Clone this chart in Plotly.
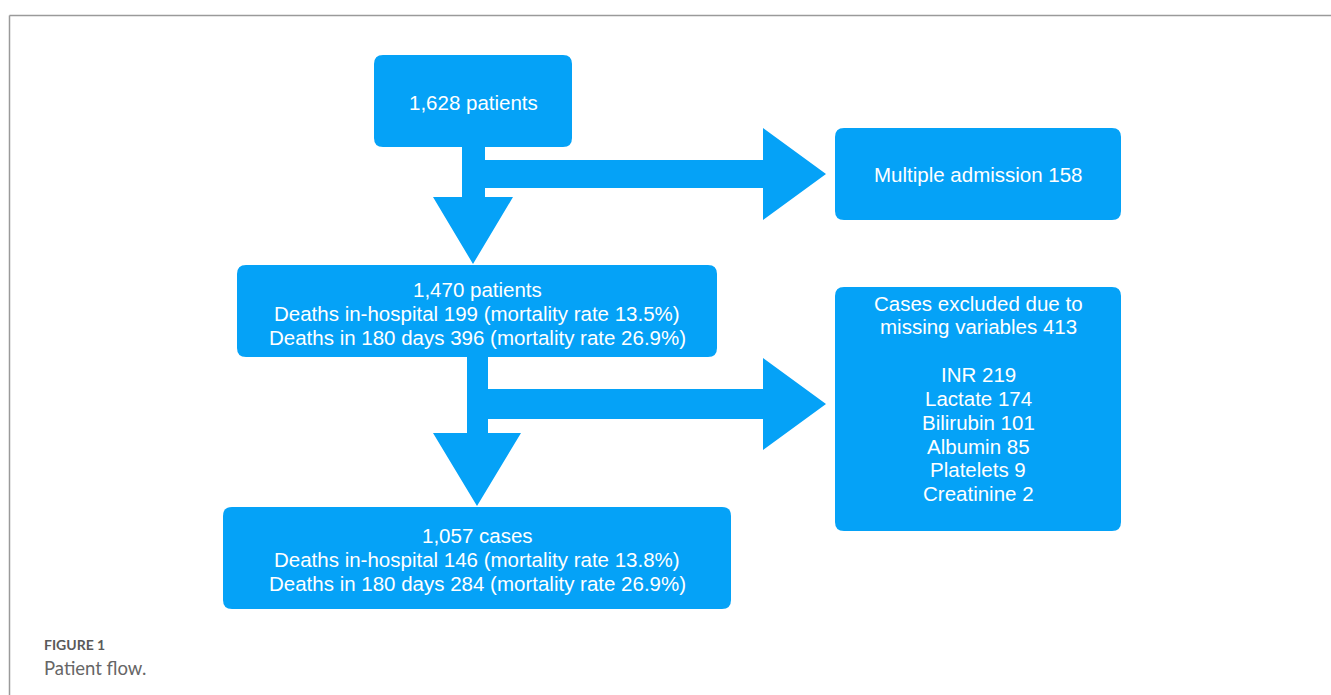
import plotly.graph_objects as go

# ---- data (flowchart contents) ----
initial_patients = 1628
multiple_admission = 158
cohort_patients = 1470
cohort_deaths_hospital = 199
cohort_mort_hospital = 13.5
cohort_deaths_180 = 396
cohort_mort_180 = 26.9
missing_total = 413
missing_vars = ["INR", "Lactate", "Bilirubin", "Albumin", "Platelets", "Creatinine"]
missing_counts = [219, 174, 101, 85, 9, 2]
final_cases = 1057
final_deaths_hospital = 146
final_mort_hospital = 13.8
final_deaths_180 = 284
final_mort_180 = 26.9

W, H = 1331, 695
BLUE = "#05A2F7"
FONT = "Liberation Sans, Arial, Helvetica, sans-serif"


def rrect(x0, y0, x1, y1, r=9):
    return (f"M{x0+r},{y0} L{x1-r},{y0} Q{x1},{y0} {x1},{y0+r} "
            f"L{x1},{y1-r} Q{x1},{y1} {x1-r},{y1} L{x0+r},{y1} "
            f"Q{x0},{y1} {x0},{y1-r} L{x0},{y0+r} Q{x0},{y0} {x0+r},{y0} Z")


def poly(pts):
    return "M" + " L".join(f"{x},{y}" for x, y in pts) + " Z"


shapes = []
def add_path(p):
    shapes.append(dict(type="path", path=p, xref="x", yref="y",
                       fillcolor=BLUE, line=dict(width=0), layer="below"))

# boxes
boxes = {
    "b1": (374, 55, 572, 147),
    "b2": (835, 128, 1121, 220),
    "b3": (237, 265, 717, 357),
    "b4": (835, 287, 1121, 531),
    "b5": (223, 507, 731, 609),
}
for b in boxes.values():
    add_path(rrect(*b))

# arrows
add_path(poly([(462, 146), (485, 146), (485, 197), (513, 197), (473, 264), (433, 197), (462, 197)]))
add_path(poly([(484, 160), (763, 160), (763, 128), (826, 174), (763, 220), (763, 188), (484, 188)]))
add_path(poly([(467, 356), (488, 356), (488, 433), (521, 433), (477, 506), (433, 433), (467, 433)]))
add_path(poly([(487, 389), (763, 389), (763, 358), (826, 404), (763, 450), (763, 419), (487, 419)]))

# frame lines
shapes.append(dict(type="line", x0=9.5, y0=15.5, x1=W, y1=15.5, xref="x", yref="y",
                   line=dict(color="#9a9a9a", width=1.5)))
shapes.append(dict(type="line", x0=9.5, y0=15.5, x1=9.5, y1=H, xref="x", yref="y",
                   line=dict(color="#9a9a9a", width=1.5)))

annotations = []
def txt(x, y, s, size=20.5, color="white", xanchor="center", family=FONT):
    annotations.append(dict(x=x, y=y, xref="x", yref="y", text=s, showarrow=False,
                            xanchor=xanchor, yanchor="middle",
                            font=dict(family=family, size=size, color=color)))

txt(473, 102, f"{initial_patients:,} patients")
txt(978, 174, f"Multiple admission {multiple_admission}")

b3_lines = [f"{cohort_patients:,} patients",
            f"Deaths in-hospital {cohort_deaths_hospital} (mortality rate {cohort_mort_hospital}%)",
            f"Deaths in 180 days {cohort_deaths_180} (mortality rate {cohort_mort_180}%)"]
for i, s in enumerate(b3_lines):
    txt(477, 289 + 24 * i, s)

b4_lines = ["Cases excluded due to", f"missing variables {missing_total}", ""] + \
           [f"{v} {c}" for v, c in zip(missing_vars, missing_counts)]
for i, s in enumerate(b4_lines):
    if s:
        txt(978, 303 + 23.85 * i, s)

b5_lines = [f"{final_cases:,} cases",
            f"Deaths in-hospital {final_deaths_hospital} (mortality rate {final_mort_hospital}%)",
            f"Deaths in 180 days {final_deaths_180} (mortality rate {final_mort_180}%)"]
for i, s in enumerate(b5_lines):
    txt(477, 535 + 24 * i, s)

# caption
txt(42, 644, "<b>FIGURE 1</b>", size=14, color="#5a5a5a", xanchor="left", family="Lato, Open Sans, sans-serif")
txt(42, 668, "Patient flow.", size=18.5, color="#666666", xanchor="left", family="Lato, Open Sans, sans-serif")

fig = go.Figure()
fig.add_trace(go.Scatter(x=[0, W], y=[0, H], mode="markers",
                         marker=dict(opacity=0), hoverinfo="skip", showlegend=False))
fig.update_layout(
    width=W, height=H, margin=dict(l=0, r=0, t=0, b=0),
    paper_bgcolor="white", plot_bgcolor="white",
    xaxis=dict(range=[0, W], visible=False, fixedrange=True),
    yaxis=dict(range=[H, 0], visible=False, fixedrange=True),
    shapes=shapes, annotations=annotations, showlegend=False,
)
fig.write_html("out.html", config={"displayModeBar": False},
               post_script="document.body.style.margin='0';document.body.style.overflow='hidden';")
